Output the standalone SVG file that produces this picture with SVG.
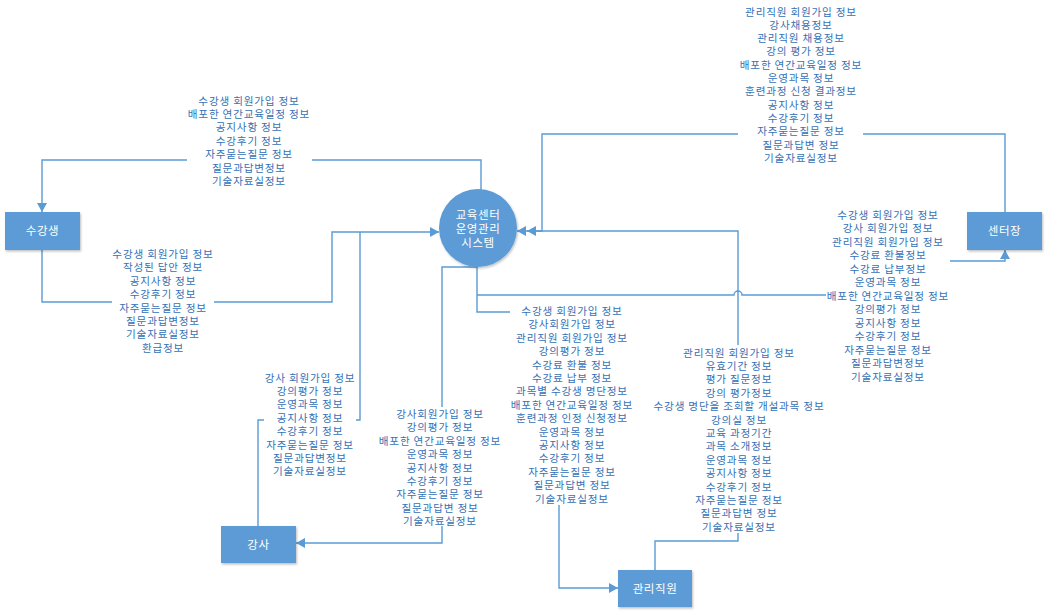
<svg xmlns="http://www.w3.org/2000/svg" width="1048" height="615" viewBox="0 0 1048 615">
  <defs>
    <marker id="arr" markerUnits="userSpaceOnUse" markerWidth="10" markerHeight="10" refX="9" refY="5" orient="auto">
      <path d="M0,0 L9,5 L0,10 z" fill="#5B9BD5"/>
    </marker>
    <filter id="shadow" x="-10%" y="-10%" width="130%" height="140%">
      <feDropShadow dx="1" dy="1.5" stdDeviation="1" flood-color="#000" flood-opacity="0.25"/>
    </filter>
  </defs>
  <style>
    .node { fill: #5B9BD5; filter: url(#shadow); }
    .ntext { font-family: "Noto Sans CJK KR", "Noto Sans", sans-serif; font-size: 11.5px; fill: #ffffff; text-anchor: middle; letter-spacing: 0.6px; }
    .conn { fill: none; stroke: #5B9BD5; stroke-width: 1.4; }
    .bg { fill: #ffffff; }
    .lbl { font-family: "Noto Sans CJK KR", "Noto Sans", sans-serif; font-size: 10.6px; fill: #3571B5; text-anchor: middle; letter-spacing: 0.8px; }
  </style>
  <rect width="1048" height="615" fill="#ffffff"/>

  <!-- connectors -->
  <g id="connectors">
    <!-- system to 수강생 -->
    <path class="conn" d="M481,190 V160 H42 V212" marker-end="url(#arr)"/>
    <!-- 센터장 to system -->
    <path class="conn" d="M1005,212 V134 H542 V231 H517" marker-end="url(#arr)"/>
    <!-- 관리직원 to system -->
    <path class="conn" d="M655,570 V541 H738 V231 H527" marker-end="url(#arr)"/>
    <!-- 수강생 to system -->
    <path class="conn" d="M42,250 V302 H332 V232 H439" marker-end="url(#arr)"/>
    <!-- 강사 to system -->
    <path class="conn" d="M258,526 V420 H360 V232"/>
    <!-- system to 강사 -->
    <path class="conn" d="M477,267 H442 V543 H296" marker-end="url(#arr)"/>
    <!-- system to 관리직원 -->
    <path class="conn" d="M477,267 V312 H559 V588 H618" marker-end="url(#arr)"/>
    <!-- system to 센터장, hopping over the 관리직원 line -->
    <path class="conn" d="M477,295 H734 A4,4 0 0 1 742,295 H940 V261 H1005 V250" marker-end="url(#arr)"/>
  </g>

  <!-- label blocks -->
  <g id="label-to-student">
    <rect class="bg" x="187" y="93" width="125" height="95"/>
    <text class="lbl"><tspan x="249" y="104.5">수강생 회원가입 정보</tspan><tspan x="249" y="117.9">배포한 연간교육일정 정보</tspan><tspan x="249" y="131.3">공지사항 정보</tspan><tspan x="249" y="144.7">수강후기 정보</tspan><tspan x="249" y="158.1">자주묻는질문 정보</tspan><tspan x="249" y="171.5">질문과답변정보</tspan><tspan x="249" y="184.9">기술자료실정보</tspan></text>
  </g>
  <g id="label-from-director">
    <rect class="bg" x="738" y="4" width="125" height="160"/>
    <text class="lbl"><tspan x="801" y="15.5">관리직원 회원가입 정보</tspan><tspan x="801" y="28.8">강사채용정보</tspan><tspan x="801" y="42.1">관리직원 채용정보</tspan><tspan x="801" y="55.4">강의 평가 정보</tspan><tspan x="801" y="68.7">배포한 연간교육일정 정보</tspan><tspan x="801" y="82">운영과목 정보</tspan><tspan x="801" y="95.3">훈련과정 신청 결과정보</tspan><tspan x="801" y="108.6">공지사항 정보</tspan><tspan x="801" y="121.9">수강후기 정보</tspan><tspan x="801" y="135.2">자주묻는질문 정보</tspan><tspan x="801" y="148.5">질문과답변 정보</tspan><tspan x="801" y="161.8">기술자료실정보</tspan></text>
  </g>
  <g id="label-to-director">
    <rect class="bg" x="826" y="207" width="124" height="178"/>
    <text class="lbl"><tspan x="888" y="218.5">수강생 회원가입 정보</tspan><tspan x="888" y="232">강사 회원가입 정보</tspan><tspan x="888" y="245.5">관리직원 회원가입 정보</tspan><tspan x="888" y="259">수강료 환불정보</tspan><tspan x="888" y="272.5">수강료 납부정보</tspan><tspan x="888" y="286">운영과목 정보</tspan><tspan x="888" y="299.5">배포한 연간교육일정 정보</tspan><tspan x="888" y="313">강의평가 정보</tspan><tspan x="888" y="326.5">공지사항 정보</tspan><tspan x="888" y="340">수강후기 정보</tspan><tspan x="888" y="353.5">자주묻는질문 정보</tspan><tspan x="888" y="367">질문과답변정보</tspan><tspan x="888" y="380.5">기술자료실정보</tspan></text>
  </g>
  <g id="label-from-student">
    <rect class="bg" x="112" y="247" width="102" height="108"/>
    <text class="lbl"><tspan x="163" y="258">수강생 회원가입 정보</tspan><tspan x="163" y="271.4">작성된 답안 정보</tspan><tspan x="163" y="284.8">공지사항 정보</tspan><tspan x="163" y="298.2">수강후기 정보</tspan><tspan x="163" y="311.6">자주묻는질문 정보</tspan><tspan x="163" y="325">질문과답변정보</tspan><tspan x="163" y="338.4">기술자료실정보</tspan><tspan x="163" y="351.8">환급정보</tspan></text>
  </g>
  <g id="label-from-instructor">
    <rect class="bg" x="264" y="370" width="92" height="108"/>
    <text class="lbl"><tspan x="310" y="381.5">강사 회원가입 정보</tspan><tspan x="310" y="394.9">강의평가 정보</tspan><tspan x="310" y="408.3">운영과목 정보</tspan><tspan x="310" y="421.7">공지사항 정보</tspan><tspan x="310" y="435.1">수강후기 정보</tspan><tspan x="310" y="448.5">자주묻는질문 정보</tspan><tspan x="310" y="461.9">질문과답변정보</tspan><tspan x="310" y="475.3">기술자료실정보</tspan></text>
  </g>
  <g id="label-to-instructor">
    <rect class="bg" x="378" y="407" width="124" height="119"/>
    <text class="lbl"><tspan x="440" y="418">강사회원가입 정보</tspan><tspan x="440" y="431.4">강의평가 정보</tspan><tspan x="440" y="444.8">배포한 연간교육일정 정보</tspan><tspan x="440" y="458.2">운영과목 정보</tspan><tspan x="440" y="471.6">공지사항 정보</tspan><tspan x="440" y="485">수강후기 정보</tspan><tspan x="440" y="498.4">자주묻는질문 정보</tspan><tspan x="440" y="511.8">질문과답변 정보</tspan><tspan x="440" y="525.2">기술자료실정보</tspan></text>
  </g>
  <g id="label-to-staff">
    <rect class="bg" x="510" y="304" width="124" height="201"/>
    <text class="lbl"><tspan x="572" y="315">수강생 회원가입 정보</tspan><tspan x="572" y="328.4">강사회원가입 정보</tspan><tspan x="572" y="341.8">관리직원 회원가입 정보</tspan><tspan x="572" y="355.2">강의평가 정보</tspan><tspan x="572" y="368.6">수강료 환불 정보</tspan><tspan x="572" y="382">수강료 납부 정보</tspan><tspan x="572" y="395.4">과목별 수강생 명단정보</tspan><tspan x="572" y="408.8">배포한 연간교육일정 정보</tspan><tspan x="572" y="422.2">훈련과정 인정 신청정보</tspan><tspan x="572" y="435.6">운영과목 정보</tspan><tspan x="572" y="449">공지사항 정보</tspan><tspan x="572" y="462.4">수강후기 정보</tspan><tspan x="572" y="475.8">자주묻는질문 정보</tspan><tspan x="572" y="489.2">질문과답변 정보</tspan><tspan x="572" y="502.6">기술자료실정보</tspan></text>
  </g>
  <g id="label-from-staff">
    <rect class="bg" x="653" y="345" width="172" height="188"/>
    <text class="lbl"><tspan x="739" y="356.5">관리직원 회원가입 정보</tspan><tspan x="739" y="369.9">유효기간 정보</tspan><tspan x="739" y="383.3">평가 질문정보</tspan><tspan x="739" y="396.7">강의 평가정보</tspan><tspan x="739" y="410.1">수강생 명단을 조회할 개설과목 정보</tspan><tspan x="739" y="423.5">강의실 정보</tspan><tspan x="739" y="436.9">교육 과정기간</tspan><tspan x="739" y="450.3">과목 소개정보</tspan><tspan x="739" y="463.7">운영과목 정보</tspan><tspan x="739" y="477.1">공지사항 정보</tspan><tspan x="739" y="490.5">수강후기 정보</tspan><tspan x="739" y="503.9">자주묻는질문 정보</tspan><tspan x="739" y="517.3">질문과답변 정보</tspan><tspan x="739" y="530.7">기술자료실정보</tspan></text>
  </g>

  <!-- nodes -->
  <g id="system">
    <circle class="node" cx="478" cy="228" r="39"/>
    <text class="ntext"><tspan x="478" y="219">교육센터</tspan><tspan x="478" y="233">운영관리</tspan><tspan x="478" y="247">시스템</tspan></text>
  </g>
  <g id="student">
    <rect class="node" x="5" y="212" width="75" height="38"/>
    <text class="ntext" x="42.5" y="235">수강생</text>
  </g>
  <g id="instructor">
    <rect class="node" x="221" y="526" width="75" height="37"/>
    <text class="ntext" x="258.5" y="548.5">강사</text>
  </g>
  <g id="staff">
    <rect class="node" x="618" y="570" width="74" height="37"/>
    <text class="ntext" x="655" y="592.5">관리직원</text>
  </g>
  <g id="director">
    <rect class="node" x="967" y="212" width="75" height="38"/>
    <text class="ntext" x="1004.5" y="235">센터장</text>
  </g>
</svg>
